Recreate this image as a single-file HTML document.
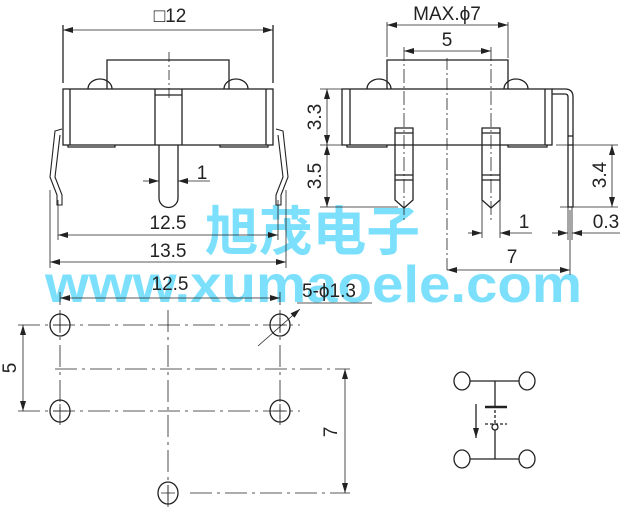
<!DOCTYPE html>
<html><head><style>body{margin:0;background:#fff}svg{display:block}</style></head><body>
<svg width="627" height="512" viewBox="0 0 627 512" xmlns="http://www.w3.org/2000/svg" font-family="Liberation Sans, sans-serif">
<defs>
<marker id="a" viewBox="0 0 10 6" refX="10" refY="3" markerWidth="10" markerHeight="6" orient="auto-start-reverse" markerUnits="userSpaceOnUse"><path d="M0,0L10,3L0,6z" fill="#222"/></marker>
</defs>
<g fill="#7ce0fc" font-weight="bold">
<text x="205" y="250" font-size="53" textLength="215" lengthAdjust="spacingAndGlyphs" font-family="Liberation Sans, Noto Sans CJK SC, sans-serif">旭茂电子</text>
<text x="45" y="302" font-size="52" textLength="537" lengthAdjust="spacingAndGlyphs">www.xumaoele.com</text>
</g>
<g stroke="#222" stroke-width="1.3" fill="none">
<path d="M63,25V83M273,25V83"/>
<line x1="63" y1="30" x2="273" y2="30" marker-start="url(#a)" marker-end="url(#a)" stroke-width="0.8"/>
<path d="M107,89V60H229V89"/>
<path d="M88,89A12,10 0 0 1 112,89M224,89A12,10 0 0 1 248,89"/>
<rect x="63" y="89" width="210" height="56"/>
<path d="M70,89V145M266,89V145"/>
<path d="M68,145V147H115V145M220,145V147H268V145"/>
<path d="M155,89V145M182,89V145M155,95H182"/>
<path d="M159,145V198A9.5,9.5 0 0 0 178,198V145"/>
<path d="M169,52V100" stroke-dasharray="10,3,2,3" stroke-width="0.8"/>
<path d="M62,129L55,131L50,177L57,195V205H62V195L55,177L60,135M276,129L283,131L288,177L281,195V205H276V195L283,177L278,135" stroke-width="1.1"/>
<line x1="143" y1="181" x2="159" y2="181" marker-end="url(#a)" stroke-width="0.8"/>
<line x1="210" y1="181" x2="178" y2="181" marker-end="url(#a)" stroke-width="0.8"/>
<path d="M58,200V240M278,200V240M50,190V268M286,190V268" stroke-width="0.8"/>
<line x1="58" y1="235" x2="278" y2="235" marker-start="url(#a)" marker-end="url(#a)" stroke-width="0.8"/>
<line x1="50" y1="262" x2="286" y2="262" marker-start="url(#a)" marker-end="url(#a)" stroke-width="0.8"/>
<path d="M387,22V57M508,22V58" stroke-width="0.8"/>
<line x1="387" y1="25" x2="508" y2="25" marker-start="url(#a)" marker-end="url(#a)" stroke-width="0.8"/>
<line x1="404" y1="51" x2="491" y2="51" marker-start="url(#a)" marker-end="url(#a)" stroke-width="0.8"/>
<path d="M404,47V222M491,47V222" stroke-width="0.8" stroke-dasharray="14,3,2,3"/>
<path d="M387,89V60H508V89"/>
<path d="M367,89A12,10 0 0 1 391,89M504,89A12,10 0 0 1 528,89"/>
<rect x="342" y="89" width="210" height="56"/>
<path d="M350,89V145M545,89V145"/>
<path d="M347,145V147H387V145M508,145V147H547V145"/>
<path d="M552,89H565Q573,89 573,97V207H568V97Q568,94 565,94H552M568,136H573M568,145H573"/>
<path d="M447,58V272" stroke-dasharray="12,3,2,3" stroke-width="0.8"/>
<path d="M395,145V128H413V145M395,145V200L404,208L413,200V145M395,133H413M395,175H413M395,180H413"/>
<path d="M482,145V128H500V145M482,145V200L491,208L500,200V145M482,133H500M482,175H500M482,180H500"/>
<path d="M320,89H342M320,145H342M320,207H398M556,145H618M560,207H618" stroke-width="0.8"/>
<line x1="327" y1="89" x2="327" y2="145" marker-start="url(#a)" marker-end="url(#a)" stroke-width="0.8"/>
<line x1="327" y1="145" x2="327" y2="207" marker-start="url(#a)" marker-end="url(#a)" stroke-width="0.8"/>
<line x1="612" y1="145" x2="612" y2="207" marker-start="url(#a)" marker-end="url(#a)" stroke-width="0.8"/>
<path d="M482,200V238M500,200V238M568,207V240M572,207V240M570,210V275" stroke-width="0.8"/>
<line x1="468" y1="233" x2="482" y2="233" marker-end="url(#a)" stroke-width="0.8"/>
<line x1="532" y1="233" x2="500" y2="233" marker-end="url(#a)" stroke-width="0.8"/>
<line x1="552" y1="233" x2="568" y2="233" marker-end="url(#a)" stroke-width="0.8"/>
<line x1="620" y1="233" x2="572" y2="233" marker-end="url(#a)" stroke-width="0.8"/>
<line x1="447" y1="270" x2="570" y2="270" marker-start="url(#a)" marker-end="url(#a)" stroke-width="0.8"/>
<g stroke-width="0.8">
<path d="M60,292V305M280,292V305"/>
<line x1="60" y1="298" x2="280" y2="298" marker-start="url(#a)" marker-end="url(#a)"/>
<path d="M297,303H372"/>
<line x1="300" y1="309" x2="258" y2="346" marker-start="url(#a)"/>
<path d="M18,325H300M18,411H300M55,369H350M190,493H350" stroke-dasharray="22,5,3,5"/>
<path d="M168,310V512M60,310V425M280,310V425" stroke-dasharray="22,5,3,5"/>
<path d="M60,318V333M53,325H67M280,318V333M273,325H287M60,404V419M53,411H67M280,404V419M273,411H287M168,485V501M161,493H175"/>
<line x1="23" y1="325" x2="23" y2="411" marker-start="url(#a)" marker-end="url(#a)"/>
<line x1="345" y1="369" x2="345" y2="493" marker-start="url(#a)" marker-end="url(#a)"/>
</g>
<ellipse cx="60" cy="325" rx="10" ry="11"/>
<ellipse cx="280" cy="325" rx="10" ry="11"/>
<ellipse cx="60" cy="411" rx="10" ry="11"/>
<ellipse cx="280" cy="411" rx="10" ry="11"/>
<ellipse cx="168" cy="493" rx="10" ry="11"/>
<ellipse cx="462" cy="381" rx="8" ry="9"/>
<ellipse cx="527" cy="381" rx="8" ry="9"/>
<ellipse cx="462" cy="459" rx="8" ry="9"/>
<ellipse cx="527" cy="459" rx="8" ry="9"/>
<path d="M470,381H519M495,381V407M470,459H519M495,430V459"/>
<path d="M485,407H507" stroke-width="2.5"/>
<path d="M495,410V424M485,424H507" stroke-dasharray="3,2"/>
<circle cx="495" cy="427" r="3"/>
<line x1="476" y1="404" x2="476" y2="438" marker-end="url(#a)"/>
</g>
<g fill="#222" font-size="19">
<text x="170" y="22" text-anchor="middle">□12</text>
<text x="202" y="179" text-anchor="middle">1</text>
<text x="168" y="229" text-anchor="middle">12.5</text>
<text x="168" y="257" text-anchor="middle">13.5</text>
<text x="447" y="20" text-anchor="middle">MAX.ϕ7</text>
<text x="447" y="46" text-anchor="middle">5</text>
<text transform="translate(321,117) rotate(-90)" text-anchor="middle">3.3</text>
<text transform="translate(321,176) rotate(-90)" text-anchor="middle">3.5</text>
<text transform="translate(606,175) rotate(-90)" text-anchor="middle">3.4</text>
<text x="524" y="228" text-anchor="middle">1</text>
<text x="606" y="228" text-anchor="middle">0.3</text>
<text x="512" y="263" text-anchor="middle">7</text>
<text x="170" y="290" text-anchor="middle">12.5</text>
<text x="302" y="297">5-ϕ1.3</text>
<text transform="translate(16,368) rotate(-90)" text-anchor="middle">5</text>
<text transform="translate(337,432) rotate(-90)" text-anchor="middle">7</text>
</g>
</svg>
</body></html>
